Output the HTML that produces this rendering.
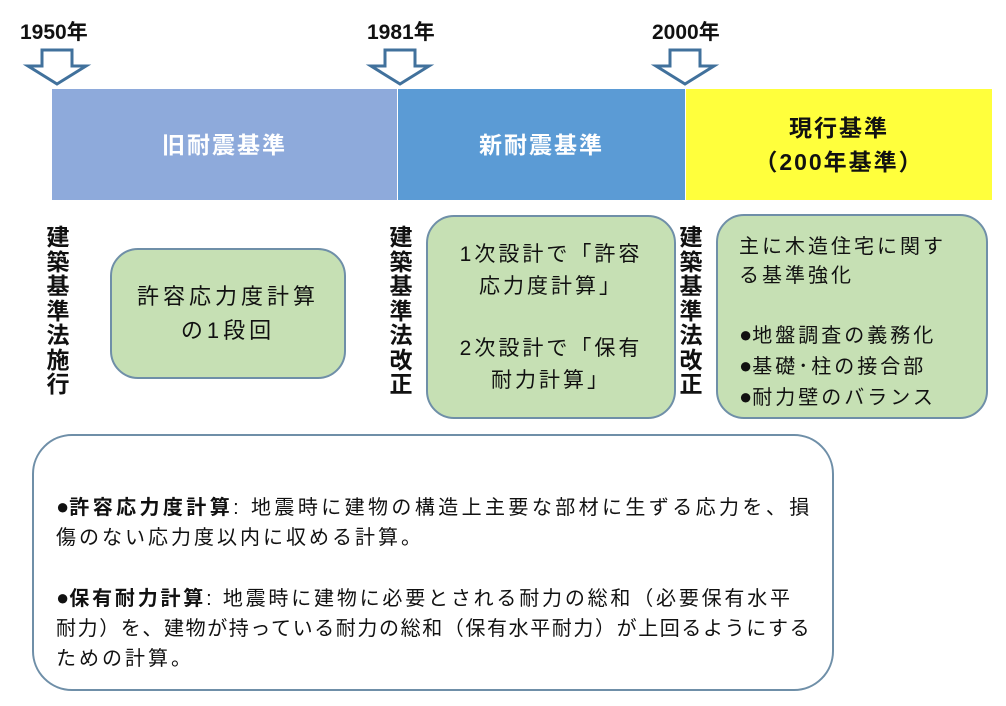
<!DOCTYPE html>
<html><head><meta charset="utf-8"><style>
body{margin:0;width:1006px;height:706px;background:#fff;position:relative;overflow:hidden;font-family:"Liberation Sans","Noto Sans CJK JP",sans-serif;color:#111}
.a{position:absolute}
.yr{font-weight:bold;font-size:21px}
.bar{position:absolute;top:89px;height:111px;display:flex;align-items:center;justify-content:center;text-align:center;font-weight:bold;font-size:23px;letter-spacing:2px;line-height:34px}
.v{position:absolute;font-weight:bold;font-size:23px;line-height:24.5px;width:26px;text-align:center}
.box{position:absolute;background:#c6e0b4;border:2px solid #6f8fa8;border-radius:28px;box-sizing:border-box;font-size:21px;letter-spacing:3px;white-space:nowrap}
.bl{font-size:1.1em;letter-spacing:0}
</style></head><body>
<div class="a yr" style="left:20px;top:16px">1950年</div>
<div class="a yr" style="left:367px;top:16px">1981年</div>
<div class="a yr" style="left:652px;top:16px">2000年</div>
<svg class="a" style="left:0;top:0" width="1006" height="90">
<g fill="#fff" stroke="#41719c" stroke-width="3">
<polygon points="42,50 72,50 72,66 86,66 57,84 28,66 42,66"/>
<polygon points="385,50 415,50 415,66 429,66 400,84 371,66 385,66"/>
<polygon points="670,50 700,50 700,66 714,66 685,84 656,66 670,66"/>
</g></svg>
<div class="bar" style="left:52px;width:345px;background:#8eaadb;color:#fff">旧耐震基準</div>
<div class="bar" style="left:398px;width:287px;background:#5b9bd5;color:#fff">新耐震基準</div>
<div class="bar" style="left:686px;width:306px;background:#ffff3c;color:#111">現行基準<br>（200年基準）</div>
<div class="v" style="left:45px;top:225px">建築基準法施行</div>
<div class="v" style="left:388px;top:225px">建築基準法改正</div>
<div class="v" style="left:678px;top:225px">建築基準法改正</div>
<div class="box" style="left:110px;top:248px;width:236px;height:131px;display:flex;align-items:center;justify-content:center;text-align:center;line-height:34px;font-size:22px;letter-spacing:4px">許容応力度計算<br>の1段回</div>
<div class="box" style="left:426px;top:215px;width:250px;height:204px;text-align:center;line-height:32px;padding-top:22px;font-size:21px;letter-spacing:3px">1次設計で「許容<br>応力度計算」<br><div style="height:30px"></div>2次設計で「保有<br>耐力計算」</div>
<div class="box" style="left:716px;top:214px;width:272px;height:205px;line-height:29px;padding:17px 0 0 21px;font-size:20px">主に木造住宅に関す<br>る基準強化<br><div style="height:29px"></div><span class="bl">●</span>地盤調査の義務化<br><span class="bl">●</span>基礎･柱の接合部<br><span class="bl">●</span>耐力壁のバランス</div>
<div class="box" style="left:32px;top:434px;width:802px;height:257px;border-radius:40px;background:#fff;font-size:20px;letter-spacing:2.2px;line-height:30px;padding:56px 0 0 22px"><span style="letter-spacing:3.4px"><span class="bl">●</span><b>許容応力度計算</b>: 地震時に建物の構造上主要な部材に生ずる応力を、損</span><br><span style="letter-spacing:3px">傷のない応力度以内に収める計算。</span><br><div style="height:30px"></div><span style="letter-spacing:2.8px"><span class="bl">●</span><b>保有耐力計算</b>: 地震時に建物に必要とされる耐力の総和（必要保有水平</span><br><span style="letter-spacing:1.6px">耐力）を、建物が持っている耐力の総和（保有水平耐力）が上回るようにする</span><br><span style="letter-spacing:3px">ための計算。</span></div>
</body></html>
